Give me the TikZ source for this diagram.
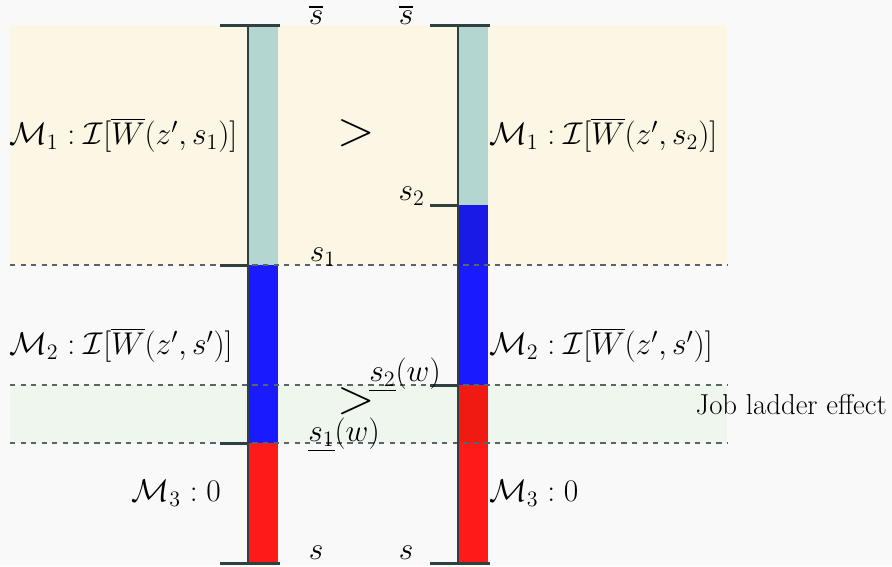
\RequirePackage{fix-cm}
\documentclass[tikz,border=0pt]{standalone}
\usepackage{amsmath}
\definecolor{bgc}{HTML}{F9F9F9}
\definecolor{bandY}{HTML}{FCF6E4}
\definecolor{bandG}{HTML}{EEF6EE}
\definecolor{tealc}{HTML}{B3D6D0}
\definecolor{bluec}{HTML}{1A1AFF}
\definecolor{blueY}{HTML}{1A1AE6}
\definecolor{redc}{HTML}{FF1A1A}
\definecolor{redG}{HTML}{F01A12}
\definecolor{edgec}{HTML}{2F4040}
\tikzset{lbl/.style={font=\fontsize{17.9}{21}\selectfont},tick/.style={edgec,line width=1.7pt},cut/.style={dashed,edgec!80,line width=.6pt}}
\begin{document}
\begin{tikzpicture}[x=0.02cm,y=-0.02cm,line cap=butt]
\fill[bgc] (0,0) rectangle (892,566); \useasboundingbox (0,0) rectangle (892,566);
\fill[bandY] (10,25) rectangle (727,265); \fill[bandG] (10,385) rectangle (727,443);
% left bar
\fill[tealc] (248,25) rectangle (278,265); \fill[bluec] (248,265) rectangle (278,443); \fill[redc] (248,443) rectangle (278,563);
% right bar
\fill[tealc] (458,25) rectangle (488,205); \fill[blueY] (458,205) rectangle (488,265); \fill[bluec] (458,265) rectangle (488,385);
\fill[redG] (458,385) rectangle (488,443); \fill[redc] (458,443) rectangle (488,563);
\draw[cut] (10,265)--(727,265); \draw[cut] (10,385)--(727,385); \draw[cut] (10,443)--(727,443);
\draw[edgec,line width=1.2pt] (248,25)--(248,563); \draw[edgec,line width=1.2pt] (458,25)--(458,563);
\draw[tick] (220,25)--(280,25); \draw[tick] (220,265)--(248,265); \draw[tick] (220,443)--(248,443); \draw[tick] (220,563)--(280,563);
\draw[tick] (430,25)--(490,25); \draw[tick] (430,205)--(458,205); \draw[tick] (430,385)--(458,385); \draw[tick] (430,563)--(490,563);
\node[lbl] (sbL) at (316,15){$\overline{s}$}; \node[lbl] (sbR) at (406,15){$\overline{s}$};
\node[lbl] (sL) at (316,553){$s$}; \node[lbl] (sR) at (406,553){$s$};
\node[lbl,left] (s2) at (431,196){$s_2$}; \node[lbl] (s1) at (323,257){$s_1$};
\node[lbl] (s2w) at (405,375){$\underline{s_2}(w)$}; \node[lbl] (s1w) at (344,435){$\underline{s_1}(w)$};
\node[lbl,right] (m1L) at (3,135){$\mathcal{M}_1:\mathcal{I}[\overline{W}(z',s_1)]$};
\node[lbl,right] (m1R) at (483,135){$\mathcal{M}_1:\mathcal{I}[\overline{W}(z',s_2)]$};
\node[lbl,right] (m2L) at (3,345){$\mathcal{M}_2:\mathcal{I}[\overline{W}(z',s')]$};
\node[lbl,right] (m2R) at (483,345){$\mathcal{M}_2:\mathcal{I}[\overline{W}(z',s')]$};
\node[lbl,left] (m3L) at (227,493){$\mathcal{M}_3:0$}; \node[lbl,right] (m3R) at (483,493){$\mathcal{M}_3:0$};
\node[font=\fontsize{28}{32}\selectfont] (gtT) at (356,133){$>$}; \node[font=\fontsize{28}{32}\selectfont] (gtB) at (356,401){$>$};
\node[font=\fontsize{16.4}{19}\selectfont,left] (job) at (893,405){Job ladder effect};
\end{tikzpicture}
\end{document}
